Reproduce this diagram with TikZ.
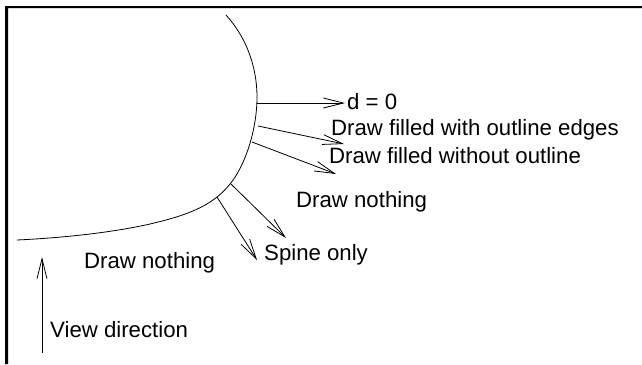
\documentclass[tikz,border=0pt]{standalone}
\usepackage{fontspec}
\setmainfont{Liberation Sans}
\usetikzlibrary{arrows.meta}
\begin{document}
\begin{tikzpicture}[x=1pt,y=-1pt,
  curveline/.style={line width=0.8pt,line cap=round},
  ray/.style={line width=0.8pt,-{Straight Barb[length=20pt,width=10pt,line width=0.8pt]}},
  lab/.style={anchor=base west,inner sep=0pt,font=\fontsize{22.2}{24}\selectfont}]
\useasboundingbox (0,0) rectangle (642,364);
\fill[white] (0,0) rectangle (642,364);
\fill[black] (5,364) -- (5,6) -- (642,6) -- (642,8) -- (8,8) -- (8,364) -- cycle;
\draw[curveline] (226,15) .. controls (247,38) and (257,68) .. (257,97)
  .. controls (257,130) and (245,166) .. (230,184)
  .. controls (212,207) and (184,216) .. (150,224)
  .. controls (110,233) and (60,238) .. (17,240);
\coordinate (a1) at (257,103); \coordinate (b1) at (345,103);
\coordinate (a2) at (258,126); \coordinate (b2) at (344,144);
\coordinate (a3) at (252,142); \coordinate (b3) at (336,174);
\coordinate (a4) at (231,184); \coordinate (b4) at (286,238);
\coordinate (a5) at (217,197); \coordinate (b5) at (257,260);
\coordinate (a6) at (42,353); \coordinate (b6) at (42,257);
\foreach \i in {1,...,6} \draw[ray] (a\i) -- (b\i);
\node[lab] (t1) at (347,109.5) {d = 0};
\node[lab] (t2) at (331,135.5) {Draw filled with outline edges};
\node[lab] (t3) at (329,163) {Draw filled without outline};
\node[lab] (t4) at (296,207) {Draw nothing};
\node[lab] (t5) at (264,260) {Spine only};
\node[lab] (t6) at (84,268) {Draw nothing};
\node[lab] (t7) at (50,337) {View direction};
\end{tikzpicture}
\end{document}
